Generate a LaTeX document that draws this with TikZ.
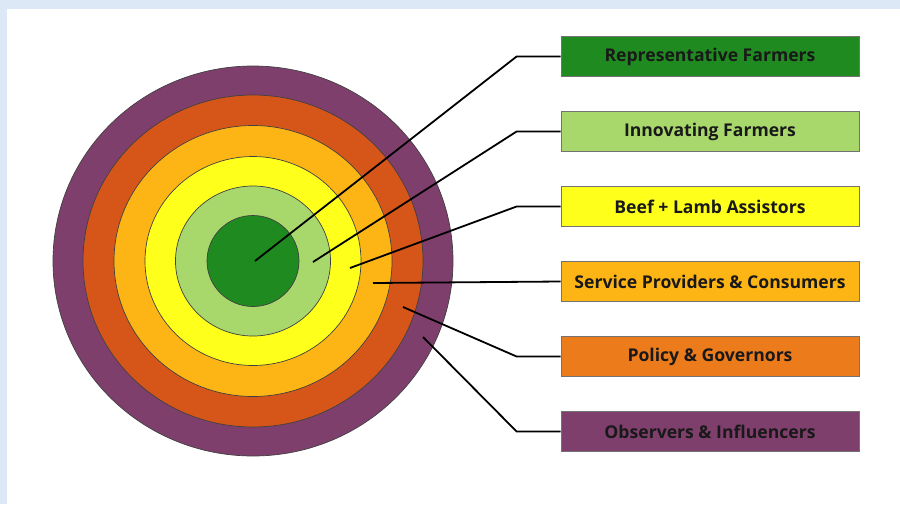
\documentclass[tikz,border=0pt]{standalone}
\usepackage{fontspec}
\setsansfont{Open Sans}
\usetikzlibrary{shapes.geometric}
\definecolor{bgblue}{HTML}{DCE8F5}
\definecolor{dgreen}{HTML}{1F8A1F}
\definecolor{lgreen}{HTML}{A8D86C}
\definecolor{ylw}{HTML}{FFFF1C}
\definecolor{lorange}{HTML}{FDB516}
\definecolor{orangering}{HTML}{D6561A}
\definecolor{orangebox}{HTML}{EC7B1C}
\definecolor{purp}{HTML}{7F3F6D}
\begin{document}
\begin{tikzpicture}[x=1pt,y=-1pt,
  ring/.style={draw=black!75, line width=0.7pt},
  namebox/.style={draw=black!55, line width=0.8pt, minimum width=298pt,
    minimum height=40pt, inner sep=0pt,
    font=\sffamily\bfseries\fontsize{17.6}{19}\selectfont, text=black!90},
  leader/.style={line width=1.8pt, black}]
% page background and white panel
\fill[bgblue] (0,0) rectangle (900,504);
\fill[white] (7,9) rectangle (900,504);
\useasboundingbox (0,0) rectangle (900,504);

% concentric rings, outermost first
\coordinate (ctr) at (253,261);
\draw[ring, fill=purp]       (ctr) ellipse [x radius=200pt,  y radius=195pt];
\draw[ring, fill=orangering] (ctr) ellipse [x radius=170pt,  y radius=166pt];
\draw[ring, fill=lorange]    (ctr) ellipse [x radius=139pt,  y radius=135.5pt];
\draw[ring, fill=ylw]        (ctr) ellipse [x radius=108pt,  y radius=104.5pt];
\draw[ring, fill=lgreen]     (ctr) ellipse [x radius=77.5pt, y radius=75pt];
\draw[ring, fill=dgreen]     (ctr) ellipse [x radius=46pt,   y radius=45.5pt];

% legend boxes
\node[namebox, fill=dgreen]    (rep) at (710,56.5)  {Representative Farmers};
\node[namebox, fill=lgreen]    (inn) at (710,131.5) {Innovating Farmers};
\node[namebox, fill=ylw]       (bla) at (710,206.5) {Beef + Lamb Assistors};
\node[namebox, fill=lorange]   (spc) at (710,281.5) {Service Providers \& Consumers};
\node[namebox, fill=orangebox] (pol) at (710,356.5) {Policy \& Governors};
\node[namebox, fill=purp]      (obs) at (710,431.5) {Observers \& Influencers};

% leader end points inside the rings
\coordinate (e1) at (255,261);
\coordinate (e2) at (313,262);
\coordinate (e3) at (350,268);
\coordinate (e4) at (373,283);
\coordinate (e5) at (403,307);
\coordinate (e6) at (423,337);

\draw[leader] (rep.west) -- ++(-44,0) -- (e1);
\draw[leader] (inn.west) -- ++(-44,0) -- (e2);
\draw[leader] (bla.west) -- ++(-44,0) -- (e3);
\draw[leader] (spc.west) -- (e4);
\draw[leader] (pol.west) -- ++(-44,0) -- (e5);
\draw[leader] (obs.west) -- ++(-44,0) -- (e6);
\end{tikzpicture}
\end{document}
